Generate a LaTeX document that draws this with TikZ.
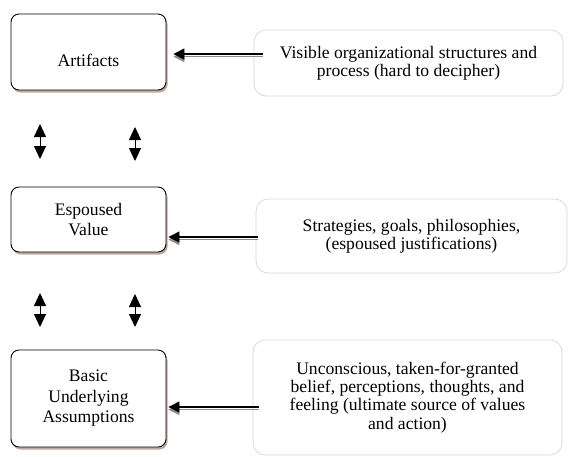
\documentclass[tikz,border=0pt]{standalone}
\usepackage{fontspec}
\setmainfont{Liberation Serif}
\usetikzlibrary{arrows.meta,shadows,calc}
\definecolor{shadowbrown}{RGB}{168,138,126}
\definecolor{lightframe}{RGB}{214,214,214}
\tikzset{
  leftbox/.style={draw=black, line width=0.9pt, rounded corners=8pt, fill=white,
    minimum width=155pt, align=center, inner sep=2pt,
    drop shadow={shadow xshift=1.5pt, shadow yshift=-2.5pt, fill=shadowbrown, opacity=0.75},
    font=\fontsize{17.6}{20.5}\selectfont},
  rightbox/.style={draw=lightframe, line width=0.7pt, rounded corners=12pt, fill=white,
    align=center, inner sep=2pt, font=\fontsize{17.6}{18.3}\selectfont},
  conn/.style={draw=black, line width=1.3pt,
    preaction={draw=black!45, line width=1.3pt, transform canvas={yshift=-2.6pt}},
    -{Triangle[length=11pt,width=11pt]}},
  updown/.style={draw=black, line width=0.9pt,
    {Triangle[length=13pt,width=12pt]}-{Triangle[length=13pt,width=12pt]}}
}
\begin{document}
\begin{tikzpicture}[x=1pt,y=-1pt]
\useasboundingbox (0,0) rectangle (569,456);
% left boxes
\node[leftbox, minimum height=76pt, text height=30pt, text depth=2pt] (a1) at (88.5,52) {Artifacts};
\node[leftbox, minimum height=65pt] (a2) at (88.5,219.5) {Espoused\\Value};
\node[leftbox, minimum height=97pt] (a3) at (88.5,398.5) {Basic\\Underlying\\Assumptions};
% right boxes
\node[rightbox, minimum width=309pt, minimum height=66pt] (r1) at (408.5,63)
  {Visible organizational structures and\\process (hard to decipher)};
\node[rightbox, minimum width=311pt, minimum height=74pt] (r2) at (411.5,236)
  {Strategies, goals, philosophies,\\(espoused justifications)};
\node[rightbox, minimum width=309pt, minimum height=115pt] (r3) at (407.5,397.5)
  {Unconscious, taken-for-granted\\belief, perceptions, thoughts, and\\feeling (ultimate source of values\\and action)};
% horizontal connectors
\draw[conn] ($(r1.west |- 0,54)+(9,0)$) -- ($(a1.east |- 0,54)+(7,0)$);
\draw[conn] ($(r2.west |- 0,237)+(2,0)$) -- ($(a2.east |- 0,237)+(2,0)$);
\draw[conn] ($(r3.west |- 0,407)+(6,0)$) -- ($(a3.east |- 0,407)+(2,0)$);
% vertical double-headed arrows
\coordinate (u1t) at (40,124);  \coordinate (u1b) at (40,159);
\coordinate (u2t) at (135,127); \coordinate (u2b) at (135,161);
\coordinate (u3t) at (40,293);  \coordinate (u3b) at (40,327);
\coordinate (u4t) at (135,294); \coordinate (u4b) at (135,327);
\draw[updown] (u1t) -- (u1b);
\draw[updown] (u2t) -- (u2b);
\draw[updown] (u3t) -- (u3b);
\draw[updown] (u4t) -- (u4b);
\end{tikzpicture}
\end{document}
